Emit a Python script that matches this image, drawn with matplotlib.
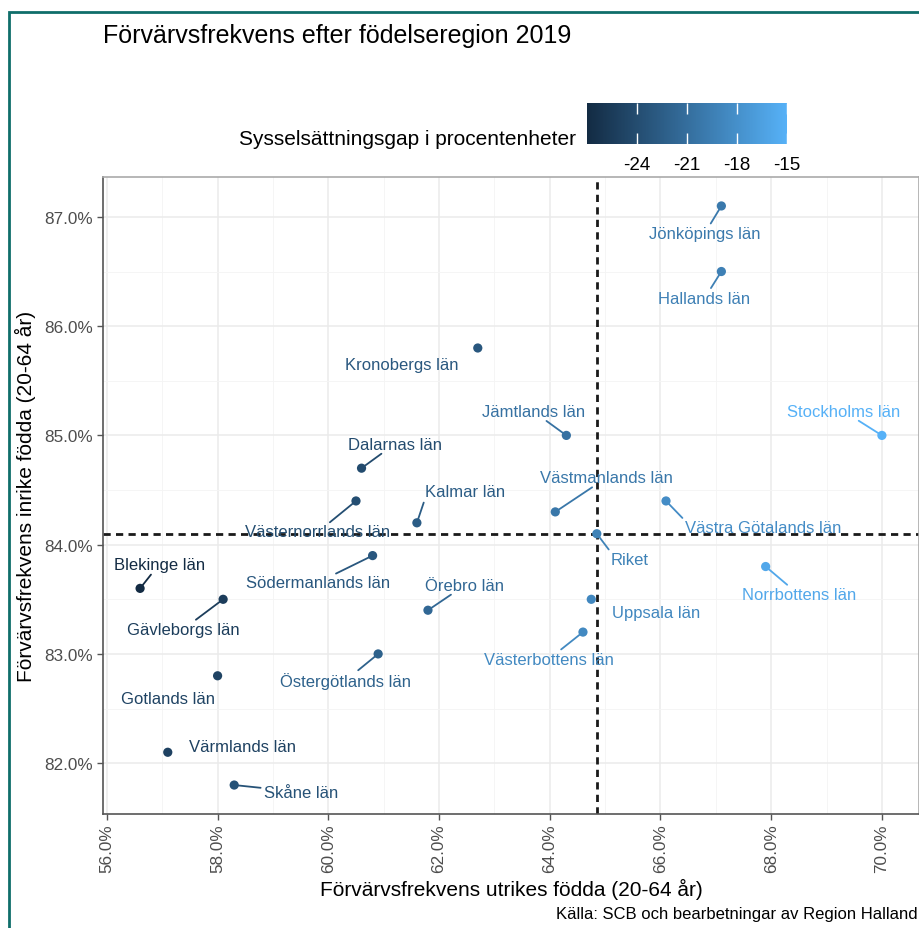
import matplotlib.pyplot as plt
import matplotlib.colors as mcolors
from matplotlib.patches import Rectangle
from matplotlib.ticker import FuncFormatter, MultipleLocator

plt.rcParams['font.family'] = ['Liberation Sans', 'DejaVu Sans']
plt.rcParams['axes.unicode_minus'] = False

# -------------------------------------------------------------------------------------------------------------------------------------------
# data
regions = ["Stockholms län", "Uppsala län", "Södermanlands län", "Östergötlands län", "Jönköpings län",
           "Kronobergs län", "Kalmar län", "Gotlands län", "Blekinge län", "Skåne län", "Hallands län",
           "Västra Götalands län", "Värmlands län", "Örebro län", "Västmanlands län", "Dalarnas län",
           "Gävleborgs län", "Västernorrlands län", "Jämtlands län", "Västerbottens län", "Norrbottens län",
           "Riket"]
utrikes = [70.0, 64.75, 60.8, 60.9, 67.1, 62.7, 61.6, 58.0, 56.6, 58.3, 67.1,
           66.1, 57.1, 61.8, 64.1, 60.6, 58.1, 60.5, 64.3, 64.6, 67.9, 64.85]
inrikes = [85.0, 83.5, 83.9, 83.0, 87.1, 85.8, 84.2, 82.8, 83.6, 81.8, 86.5,
           84.4, 82.1, 83.4, 84.3, 84.7, 83.5, 84.4, 85.0, 83.2, 83.8, 84.1]
gap = [-15.0, -18.75, -23.1, -22.1, -20.0, -23.1, -22.6, -24.8, -27.0, -23.5, -19.4,
       -18.3, -25.0, -21.6, -20.2, -24.1, -25.4, -23.9, -20.7, -18.6, -15.9, -19.25]
gap_ticks = [-24, -21, -18, -15]

# label offsets in pixels (dx right, dy down) and whether a segment is drawn
label_pos = {
    "Jönköpings län": (-17, 28, True), "Hallands län": (-17, 27, True),
    "Kronobergs län": (-76, 17, False), "Jämtlands län": (-33, -24, True),
    "Stockholms län": (-38, -24, True), "Dalarnas län": (33, -24, True),
    "Västernorrlands län": (-38, 31, True), "Kalmar län": (48, -31, True),
    "Västmanlands län": (51, -34, True), "Västra Götalands län": (97, 27, True),
    "Riket": (33, 26, True), "Södermanlands län": (-55, 27, True),
    "Blekinge län": (19, -24, True), "Gävleborgs län": (-40, 30, True),
    "Örebro län": (37, -25, True), "Uppsala län": (65, 13, False),
    "Västerbottens län": (-34, 27, True), "Norrbottens län": (33, 28, True),
    "Östergötlands län": (-33, 27, True), "Gotlands län": (-50, 23, False),
    "Värmlands län": (75, -6, False), "Skåne län": (67, 7, True),
}

# -------------------------------------------------------------------------------------------------------------------------------------------
# plot
W, H = 920, 929
fig = plt.figure(figsize=(W / 100, H / 100), dpi=100)
ax = fig.add_axes([103 / W, 1 - 815 / H, (919 - 103) / W, (815 - 178) / H])

cmap = mcolors.LinearSegmentedColormap.from_list("gg", ["#132B43", "#56B1F7"])
norm = mcolors.Normalize(vmin=min(gap), vmax=max(gap))

# ggplot style expansion (5 %)
xr = max(utrikes) - min(utrikes)
yr = max(inrikes) - min(inrikes)
ax.set_xlim(min(utrikes) - 0.05 * xr, max(utrikes) + 0.05 * xr)
ax.set_ylim(min(inrikes) - 0.05 * yr, max(inrikes) + 0.05 * yr)

ax.xaxis.set_major_locator(MultipleLocator(2))
ax.xaxis.set_minor_locator(MultipleLocator(1))
ax.yaxis.set_major_locator(MultipleLocator(1))
ax.yaxis.set_minor_locator(MultipleLocator(0.5))
ax.grid(which='major', color='#EBEBEB', linewidth=1.1)
ax.grid(which='minor', color='#F4F4F4', linewidth=0.6)
ax.set_axisbelow(True)

pct = FuncFormatter(lambda v, p: "%.1f%%" % v)
ax.xaxis.set_major_formatter(pct)
ax.yaxis.set_major_formatter(pct)
ax.tick_params(axis='both', which='major', length=4, width=1, color='#555555', labelcolor='#4D4D4D',
               labelsize=12.3, pad=3)
ax.tick_params(axis='both', which='minor', length=0)
ax.tick_params(axis='x', labelrotation=90)

for side in ['left', 'bottom']:
    ax.spines[side].set_color('#555555')
    ax.spines[side].set_linewidth(1.2)
for side in ['top', 'right']:
    ax.spines[side].set_color('#AAAAAA')
    ax.spines[side].set_linewidth(1.2)

# reference lines at Riket
riket = regions.index("Riket")
ax.axvline(utrikes[riket], color='#1A1A1A', linestyle=(0, (2.6, 1.9)), linewidth=2.0, zorder=2)
ax.axhline(inrikes[riket], color='#1A1A1A', linestyle=(0, (2.6, 1.9)), linewidth=2.0, zorder=2)

sc = ax.scatter(utrikes, inrikes, c=gap, cmap=cmap, norm=norm, s=44, edgecolors='none', zorder=4)

labels = []
for name, x, y, g in zip(regions, utrikes, inrikes, gap):
    dx, dy, seg = label_pos[name]
    col = cmap(norm(g))
    t = ax.annotate(name, (x, y), xytext=(dx, -dy), textcoords='offset pixels', ha='center', va='center',
                    fontsize=12, color=col, zorder=3)
    labels.append((t, x, y, col, seg))

ax.set_xlabel("Förvärvsfrekvens utrikes födda (20-64 år)", fontsize=15, labelpad=4)
ax.set_ylabel("Förvärvsfrekvens inrike födda (20-64 år)", fontsize=15, labelpad=6)

# Title and caption
fig.text(103 / W, 1 - 36 / H, "Förvärvsfrekvens efter födelseregion 2019", fontsize=18, va='center', ha='left')
fig.text(918 / W, 1 - 915 / H, "Källa: SCB och bearbetningar av Region Halland", fontsize=12,
         va='center', ha='right')

# Colour bar legend
cax = fig.add_axes([587 / W, 1 - 145 / H, 200 / W, 41 / H])
cb = fig.colorbar(sc, cax=cax, orientation='horizontal', ticks=gap_ticks)
cb.outline.set_visible(False)
cax.xaxis.set_ticks_position('both')
cax.tick_params(axis='x', direction='in', length=8, width=1, color='white', labelsize=13.5, pad=9,
                labeltop=False, labelbottom=True)
cax.minorticks_off()
fig.text(576 / W, 1 - 140 / H, "Sysselsättningsgap i procentenheter", fontsize=15, va='center', ha='right')

# frame around the picture
fig.patches.append(Rectangle((9 / W, -0.05), 1.2, 1 - 12.5 / H + 0.05, transform=fig.transFigure,
                             fill=False, edgecolor='#0F6E6A', linewidth=2))

# segments, roughly the way ggrepel connects them:
# corner of the label box when the point is off both sides, else toward the label centre
fig.canvas.draw()
for t, x, y, col, seg in labels:
    if not seg:
        continue
    bb = t.get_window_extent()
    px, py = ax.transData.transform((x, y))
    outx = px < bb.x0 or px > bb.x1
    outy = py < bb.y0 or py > bb.y1
    if outx and outy:
        rel = (0.0 if px < bb.x0 else 1.0, 0.0 if py < bb.y0 else 1.0)
    else:
        cx, cy = (bb.x0 + bb.x1) / 2, (bb.y0 + bb.y1) / 2
        dx, dy = px - cx, py - cy
        k = min(bb.width / 2 / abs(dx) if dx else 1e9, bb.height / 2 / abs(dy) if dy else 1e9)
        rel = (0.5 + dx * k / bb.width, 0.5 + dy * k / bb.height)
    ax.annotate("", (x, y), xytext=rel, textcoords=t,
                arrowprops=dict(arrowstyle='-', color=col, lw=1.3, shrinkA=2.5, shrinkB=0), zorder=3)

plt.savefig("out.png", dpi=100)
